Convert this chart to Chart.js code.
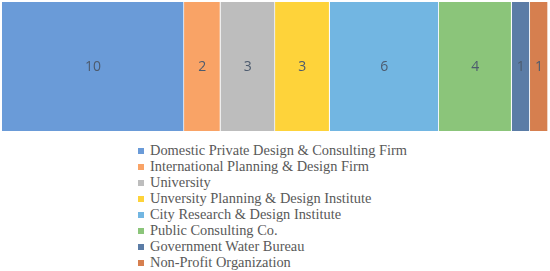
<!DOCTYPE html>
<html>
<head>
<meta charset="utf-8">
<script src="https://cdn.jsdelivr.net/npm/chart.js@4/dist/chart.umd.min.js"></script>
<style>
  body { margin: 0; background: #fff; }
  #wrap { position: relative; width: 550px; height: 134px; }
  #legend { margin: 8px 0 0 138px; padding: 0; list-style: none;
            font-family: "Liberation Serif", serif; font-size: 14.4px; color: #595959; }
  #legend li { height: 16px; line-height: 16px; white-space: nowrap; }
  #legend span { display: inline-block; width: 6px; height: 6px; margin-right: 6px; vertical-align: 1px; }
</style>
</head>
<body>
<div id="wrap"><canvas id="chart"></canvas></div>
<ul id="legend"></ul>
<script>
const categories = ['Domestic Private Design & Consulting Firm', 'International Planning & Design Firm',
    'University', 'Unversity Planning & Design Institute', 'City Research & Design Institute',
    'Public Consulting Co.', 'Government Water Bureau', 'Non-Profit Organization'];
const counts = [10, 2, 3, 3, 6, 4, 1, 1];
const colors = ['#6a9bd8', '#f9a366', '#bdbdbd', '#fed33a', '#72b6e2', '#8bc57a', '#5b7ca6', '#d67f4f'];

// value labels in the middle of each segment
const segmentLabels = {
    id: 'segmentLabels',
    afterDatasetsDraw(chart) {
        const ctx = chart.ctx;
        ctx.save();
        ctx.font = '14px "Open Sans", sans-serif';
        ctx.fillStyle = '#4d5b6e';
        ctx.textAlign = 'center';
        ctx.textBaseline = 'middle';
        chart.data.datasets.forEach((ds, i) => {
            const bar = chart.getDatasetMeta(i).data[0];
            const p = bar.getProps(['x', 'y', 'base'], true);
            ctx.fillText(ds.data[0], (p.x + p.base) / 2, p.y + 1);
        });
        ctx.restore();
    }
};

new Chart(document.getElementById('chart'), {
    type: 'bar',
    data: {
        labels: [''],
        datasets: categories.map((name, i) => ({
            label: name,
            data: [counts[i]],
            backgroundColor: colors[i],
            borderColor: '#ffffff',
            borderWidth: { right: 1, left: 0, top: 0, bottom: 0 },
            borderSkipped: false,
            barPercentage: 1,
            categoryPercentage: 1
        }))
    },
    options: {
        indexAxis: 'y',
        responsive: true,
        maintainAspectRatio: false,
        animation: false,
        layout: { padding: { left: 2, right: 2, top: 2, bottom: 3 } },
        scales: {
            x: { stacked: true, display: false, min: 0, max: 30 },
            y: { stacked: true, display: false }
        },
        plugins: { legend: { display: false }, tooltip: { enabled: false } }
    },
    plugins: [segmentLabels]
});

const legend = document.getElementById('legend');
categories.forEach((name, i) => {
    const li = document.createElement('li');
    const box = document.createElement('span');
    box.style.background = colors[i];
    li.appendChild(box);
    li.appendChild(document.createTextNode(name));
    legend.appendChild(li);
});
</script>
</body>
</html>
